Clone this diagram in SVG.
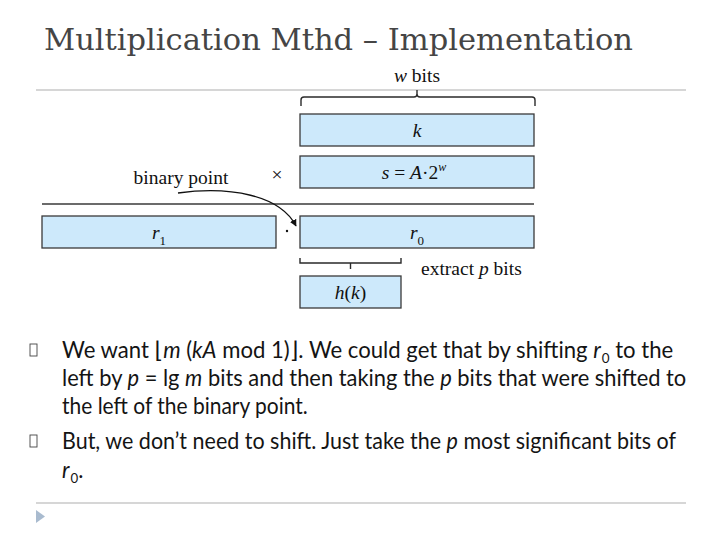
<svg xmlns="http://www.w3.org/2000/svg" width="720" height="540" viewBox="0 0 720 540">
<defs>
<style>
.title{font-family:"DejaVu Serif","Liberation Serif",serif;font-size:30px;fill:#454545}
.lab{font-family:"Liberation Serif","Times New Roman",serif;font-size:19.5px;fill:#111}
.it{font-style:italic}
.box{fill:#cde9fb;stroke:#3a3a3a;stroke-width:1.3}
.rule{stroke:#c9c9c9;stroke-width:1.6}
.brace{fill:none;stroke:#2a2a2a;stroke-width:1.4}
.body{font-family:Lato,"Open Sans","DejaVu Sans",sans-serif;font-size:23px;fill:#141414}
.bul{fill:none;stroke:#444;stroke-width:0.9}
</style>
<marker id="ah" viewBox="0 0 10 10" refX="9" refY="5" markerWidth="7" markerHeight="7" orient="auto" markerUnits="userSpaceOnUse">
<path d="M0,0 L10,5 L0,10 Z" fill="#111"/>
</marker>
</defs>
<rect width="720" height="540" fill="#fff"/>
<text class="title" x="44" y="50" textLength="589" lengthAdjust="spacingAndGlyphs">Multiplication Mthd – Implementation</text>
<line class="rule" x1="36" y1="90" x2="686" y2="90"/>
<line class="rule" x1="36" y1="503" x2="686" y2="503"/>
<path d="M36,510 L45,516.5 L36,523 Z" fill="#a9bbcf"/>

<g id="wbits"><text class="lab" x="417" y="82" text-anchor="middle"><tspan class="it">w</tspan> bits</text></g>
<g id="brace-top"><path class="brace" d="M301,106 V100 Q301,97 304,97 H414 Q417,97 417,94 V90 M417,94 Q417,97 420,97 H532 Q535,97 535,100 V106"/></g>
<g id="k"><rect class="box" x="300" y="114" width="234" height="32"/><text class="lab it" x="417" y="137" text-anchor="middle">k</text></g>
<g id="s"><rect class="box" x="300" y="156" width="234" height="32"/><text class="lab" x="414" y="179" text-anchor="middle"><tspan class="it">s</tspan> = <tspan class="it">A</tspan>·2<tspan class="it" font-size="12" dy="-8">w</tspan></text></g>
<g id="times"><text class="lab" x="277" y="181" text-anchor="middle">×</text></g>
<g id="binpoint"><text class="lab" x="181" y="184" text-anchor="middle">binary point</text></g>
<line x1="42" y1="204" x2="534" y2="204" stroke="#3a3a3a" stroke-width="1.3"/>
<g id="r1"><rect class="box" x="42" y="216" width="234" height="32"/><text class="lab" x="152" y="239"><tspan class="it">r</tspan><tspan font-size="13" dy="6">1</tspan></text></g>
<g id="dot"><circle cx="287" cy="231" r="1.2" fill="#111"/></g>
<g id="r0"><rect class="box" x="300" y="216" width="234" height="32"/><text class="lab" x="410" y="239"><tspan class="it">r</tspan><tspan font-size="13" dy="6">0</tspan></text></g>
<g id="brace-bot"><path class="brace" d="M300,258 V263 H401 V258 M350.5,263 V269"/></g>
<g id="extract"><text class="lab" x="421" y="275">extract <tspan class="it">p</tspan> bits</text></g>
<g id="hk"><rect class="box" x="300" y="276" width="101" height="32"/><text class="lab" x="350.5" y="299" text-anchor="middle"><tspan class="it">h</tspan>(<tspan class="it">k</tspan>)</text></g>
<g id="connectors"><path d="M178,193 C230,186 280,195 296,226" fill="none" stroke="#111" stroke-width="1.3" marker-end="url(#ah)"/></g>

<rect class="bul" x="30" y="344" width="7" height="12"/>
<rect class="bul" x="30" y="435" width="7" height="12"/>
<g id="body">
<text class="body" transform="translate(62,358) scale(0.962,1)">We want ⌊<tspan class="it">m</tspan> (<tspan class="it">kA</tspan> mod 1)⌋. We could get that by shifting <tspan class="it">r</tspan><tspan font-size="14" dx="1" dy="5">0</tspan><tspan dy="-5"> to the</tspan></text>
<text class="body" transform="translate(62,386) scale(0.952,1)">left by <tspan class="it">p</tspan> = lg <tspan class="it">m</tspan> bits and then taking the <tspan class="it">p</tspan> bits that were shifted to</text>
<text class="body" transform="translate(62,414) scale(0.912,1)">the left of the binary point.</text>
<text class="body" transform="translate(62,449) scale(0.935,1)">But, we don’t need to shift. Just take the <tspan class="it">p</tspan> most significant bits of</text>
<text class="body" transform="translate(62,478) scale(0.95,1)"><tspan class="it">r</tspan><tspan font-size="14" dx="1" dy="5">0</tspan><tspan dy="-5">.</tspan></text>
</g>
</svg>
